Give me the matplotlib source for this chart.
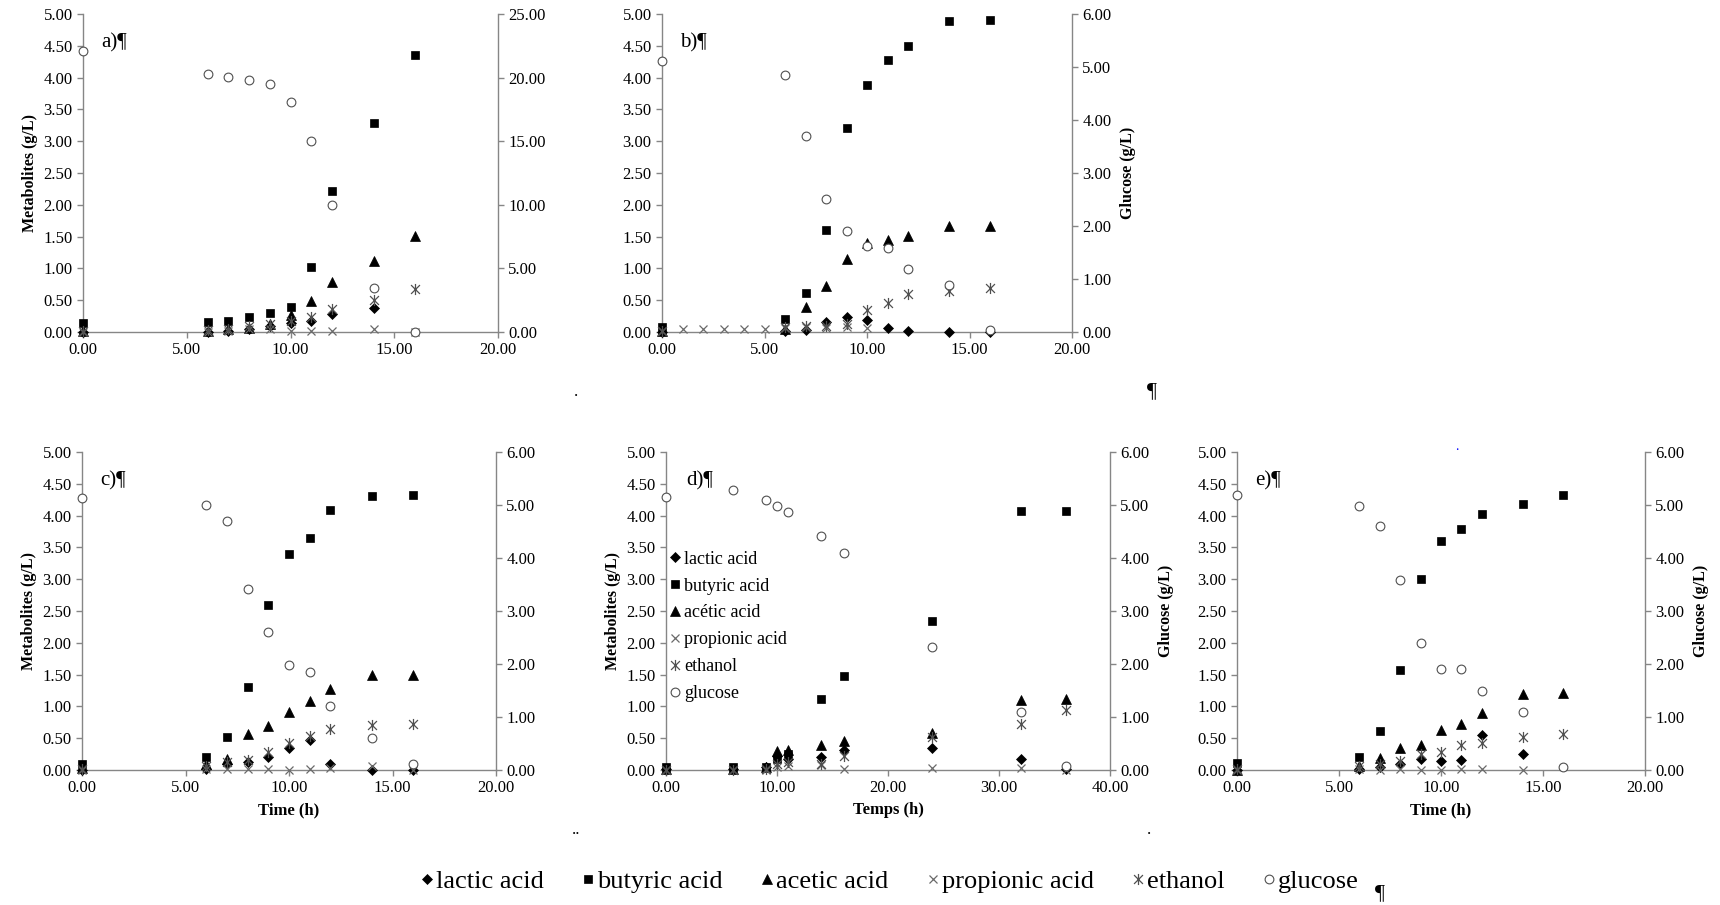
import numpy as np
import matplotlib
matplotlib.use('Agg')
import matplotlib.pyplot as plt
from matplotlib.path import Path
from matplotlib.lines import Line2D
from matplotlib.ticker import FormatStrFormatter, MultipleLocator

plt.rcParams['font.family'] = ['Liberation Serif', 'DejaVu Serif']

nan = np.nan

# ---------------- data ----------------
series_names = ["lactic acid", "butyric acid", "acetic acid", "propionic acid", "ethanol", "glucose"]
legend_d_names = ["lactic acid", "butyric acid", "acétic acid", "propionic acid", "ethanol", "glucose"]

# panel a
time_a = [0, 6, 7, 8, 9, 10, 11, 12, 14, 16]
lactic_a = [0.00, 0.00, 0.02, 0.05, 0.09, 0.14, 0.18, 0.29, 0.37, nan]
butyric_a = [0.14, 0.15, 0.17, 0.23, 0.30, 0.40, 1.02, 2.21, 3.29, 4.35]
acetic_a = [0.02, 0.02, 0.04, 0.07, 0.12, 0.27, 0.48, 0.79, 1.12, 1.51]
propionic_a = [0.00, 0.00, 0.01, 0.04, 0.05, 0.02, 0.02, 0.02, 0.05, 0.00]
ethanol_a = [0.02, 0.03, 0.05, 0.09, 0.13, 0.18, 0.24, 0.36, 0.50, 0.68]
glucose_a = [22.1, 20.25, 20.05, 19.8, 19.5, 18.05, 15.05, 9.95, 3.45, 0.0]

# panel b
time_b = [0, 6, 7, 8, 9, 10, 11, 12, 14, 16]
lactic_b = [0.00, 0.02, 0.03, 0.15, 0.24, 0.19, 0.07, 0.01, 0.00, 0.00]
butyric_b = [0.08, 0.21, 0.61, 1.61, 3.20, 3.88, 4.27, 4.49, 4.89, 4.90]
acetic_b = [0.02, 0.05, 0.40, 0.73, 1.15, 1.40, 1.45, 1.51, 1.66, 1.67]
time_b_prop = [0, 1, 2, 3, 4, 5, 6, 7, 8, 9, 10]
propionic_b = [0.02, 0.04, 0.04, 0.04, 0.05, 0.05, 0.07, 0.08, 0.07, 0.08, 0.06]
ethanol_b = [0.02, 0.08, 0.09, 0.10, 0.13, 0.34, 0.46, 0.60, 0.65, 0.69]
glucose_b = [5.12, 4.85, 3.70, 2.50, 1.90, 1.63, 1.58, 1.19, 0.88, 0.04]

# panel c
time_c = [0, 6, 7, 8, 9, 10, 11, 12, 14, 16]
lactic_c = [0.00, 0.02, 0.10, 0.13, 0.21, 0.35, 0.47, 0.10, 0.00, 0.00]
butyric_c = [0.10, 0.20, 0.52, 1.30, 2.60, 3.39, 3.64, 4.09, 4.31, 4.32]
acetic_c = [0.03, 0.10, 0.18, 0.56, 0.69, 0.91, 1.08, 1.28, 1.49, 1.50]
propionic_c = [0.00, 0.02, 0.02, 0.02, 0.02, 0.00, 0.01, 0.03, 0.06, 0.00]
ethanol_c = [0.02, 0.06, 0.13, 0.16, 0.29, 0.42, 0.54, 0.65, 0.70, 0.73]
glucose_c = [5.14, 5.00, 4.70, 3.42, 2.60, 1.99, 1.84, 1.20, 0.61, 0.12]

# panel d
time_d = [0, 6, 9, 10, 11, 14, 16, 24, 32, 36]
lactic_d = [0.01, 0.02, 0.04, 0.22, 0.18, 0.20, 0.31, 0.35, 0.17, 0.02]
butyric_d = [0.04, 0.04, 0.05, 0.18, 0.25, 1.12, 1.48, 2.35, 4.08, 4.08]
acetic_d = [0.02, 0.02, 0.05, 0.30, 0.32, 0.39, 0.45, 0.58, 1.10, 1.11]
propionic_d = [0.00, 0.00, 0.00, 0.05, 0.06, 0.08, 0.02, 0.03, 0.03, 0.00]
ethanol_d = [0.00, 0.00, 0.02, 0.10, 0.12, 0.10, 0.22, 0.52, 0.73, 0.94]
glucose_d = [5.16, 5.29, 5.10, 4.98, 4.87, 4.42, 4.10, 2.32, 1.09, 0.08]

# panel e
time_e = [0, 6, 7, 8, 9, 10, 11, 12, 14, 16]
lactic_e = [0.00, 0.01, 0.04, 0.10, 0.17, 0.14, 0.15, 0.55, 0.25, nan]
butyric_e = [0.11, 0.20, 0.62, 1.57, 3.00, 3.60, 3.79, 4.02, 4.19, 4.32]
acetic_e = [0.00, 0.06, 0.19, 0.35, 0.40, 0.63, 0.73, 0.90, 1.20, 1.21]
propionic_e = [0.00, 0.02, 0.00, 0.02, 0.00, 0.00, 0.01, 0.01, 0.00, nan]
ethanol_e = [0.02, 0.07, 0.10, 0.14, 0.25, 0.29, 0.40, 0.43, 0.52, 0.56]
glucose_e = [5.18, 4.99, 4.61, 3.59, 2.40, 1.90, 1.90, 1.50, 1.09, 0.05]

# ---------------- styles ----------------
star_path = Path([(0, -1), (0, 1), (-0.8, -0.8), (0.8, 0.8), (-0.8, 0.8), (0.8, -0.8)],
                 [Path.MOVETO, Path.LINETO] * 3)
AX_COLOR = '#868686'
styles = {
    "lactic acid": dict(marker='D', ms=5.2, mfc='black', mec='black', mew=0.5),
    "butyric acid": dict(marker='s', ms=6.3, mfc='black', mec='black', mew=0.5),
    "acetic acid": dict(marker='^', ms=7.0, mfc='black', mec='black', mew=0.5),
    "propionic acid": dict(marker='x', ms=6.0, mfc='none', mec='#6a6a6a', mew=0.9),
    "ethanol": dict(marker=star_path, ms=8.0, mfc='none', mec='#505050', mew=0.9),
    "glucose": dict(marker='o', ms=6.3, mfc='white', mec='#505050', mew=0.8),
}

W, H = 1720, 905
fig = plt.figure(figsize=(W / 100, H / 100), dpi=100)


def make_axes(l, r, t, b):
    return fig.add_axes([l / W, 1 - b / H, (r - l) / W, (b - t) / H])


def draw_panel(ax, tag, times, lactic, butyric, acetic, propionic, ethanol, gluc,
               gmax, gstep, xmax, xstep, prop_times=None,
               ylabel=False, y2label=False, xlabel=None):
    if prop_times is None:
        prop_times = times
    data = [("lactic acid", times, lactic), ("butyric acid", times, butyric),
            ("acetic acid", times, acetic), ("propionic acid", prop_times, propionic),
            ("ethanol", times, ethanol)]
    ax2 = ax.twinx()
    for name, t, v in data:
        ax.plot(t, v, linestyle='none', clip_on=False, zorder=3, **styles[name])
    ax2.plot(times, gluc, linestyle='none', clip_on=False, zorder=3, **styles["glucose"])
    ax.set_xlim(0, xmax)
    ax.set_ylim(0, 5)
    ax2.set_ylim(0, gmax)
    ax.xaxis.set_major_locator(MultipleLocator(xstep))
    ax.yaxis.set_major_locator(MultipleLocator(0.5))
    ax2.yaxis.set_major_locator(MultipleLocator(gstep))
    for a in (ax, ax2):
        a.xaxis.set_major_formatter(FormatStrFormatter('%.2f'))
        a.yaxis.set_major_formatter(FormatStrFormatter('%.2f'))
        a.set_facecolor('none')
        for s in a.spines.values():
            s.set_color(AX_COLOR)
            s.set_linewidth(1.0)
        a.tick_params(labelsize=12, colors=AX_COLOR, labelcolor='black', length=4, width=1.0)
    ax.spines['top'].set_visible(False)
    ax.spines['right'].set_visible(False)
    ax2.spines['top'].set_visible(False)
    ax2.spines['left'].set_visible(False)
    ax2.spines['bottom'].set_visible(False)
    ax.text(0.9 * xmax / 20, 4.55, tag, fontsize=15, va='center', ha='left')
    if ylabel:
        ax.set_ylabel("Metabolites (g/L)", fontsize=11.5, fontweight='bold', labelpad=4)
    if y2label:
        ax2.set_ylabel("Glucose (g/L)", fontsize=11.5, fontweight='bold', labelpad=6)
    if xlabel:
        ax.set_xlabel(xlabel, fontsize=12, fontweight='bold', labelpad=4)
    return ax, ax2


ax_a = make_axes(83, 498, 14, 332)
draw_panel(ax_a, "a)¶", time_a, lactic_a, butyric_a, acetic_a, propionic_a, ethanol_a, glucose_a,
           25, 5, 20, 5, ylabel=True)

ax_b = make_axes(662, 1072, 14, 332)
draw_panel(ax_b, "b)¶", time_b, lactic_b, butyric_b, acetic_b, propionic_b, ethanol_b, glucose_b,
           6, 1, 20, 5, prop_times=time_b_prop, y2label=True)

ax_c = make_axes(82, 496, 452, 770)
draw_panel(ax_c, "c)¶", time_c, lactic_c, butyric_c, acetic_c, propionic_c, ethanol_c, glucose_c,
           6, 1, 20, 5, ylabel=True, xlabel="Time (h)")

ax_d = make_axes(666, 1110, 452, 770)
draw_panel(ax_d, "d)¶", time_d, lactic_d, butyric_d, acetic_d, propionic_d, ethanol_d, glucose_d,
           6, 1, 40, 10, ylabel=True, y2label=True, xlabel="Temps (h)")

ax_e = make_axes(1237, 1645, 452, 770)
draw_panel(ax_e, "e)¶", time_e, lactic_e, butyric_e, acetic_e, propionic_e, ethanol_e, glucose_e,
           6, 1, 20, 5, y2label=True, xlabel="Time (h)")

# legend inside panel d
handles = [Line2D([], [], linestyle='none', **styles[n]) for n in series_names]
ax_d.legend(handles, legend_d_names, loc='upper left', bbox_to_anchor=(0.01, 0.69),
            frameon=False, fontsize=13, handlelength=0.5, handletextpad=0.25,
            labelspacing=0.55, borderaxespad=0.0, borderpad=0.0)

# bottom legend
fig.legend(handles, series_names, loc='center', bbox_to_anchor=(890 / W, 1 - 881 / H),
           ncol=6, frameon=False, fontsize=19, handlelength=0.45, handletextpad=0.12,
           columnspacing=1.45, borderpad=0.0)

# stray document marks
fig.text(1152 / W, 1 - 392 / H, "¶", fontsize=16, ha='center', va='center')
fig.text(576 / W, 1 - 392 / H, ".", fontsize=12, ha='center', va='center')
fig.text(576 / W, 1 - 830 / H, "..", fontsize=12, ha='center', va='center')
fig.text(1149 / W, 1 - 830 / H, ".", fontsize=12, ha='center', va='center')
fig.text(1380 / W, 1 - 894 / H, "¶", fontsize=16, ha='center', va='center')
fig.text(1457 / W, 1 - 446 / H, ".", fontsize=10, color='blue', ha='center', va='center')

fig.savefig("out.png", dpi=100, facecolor='white')
